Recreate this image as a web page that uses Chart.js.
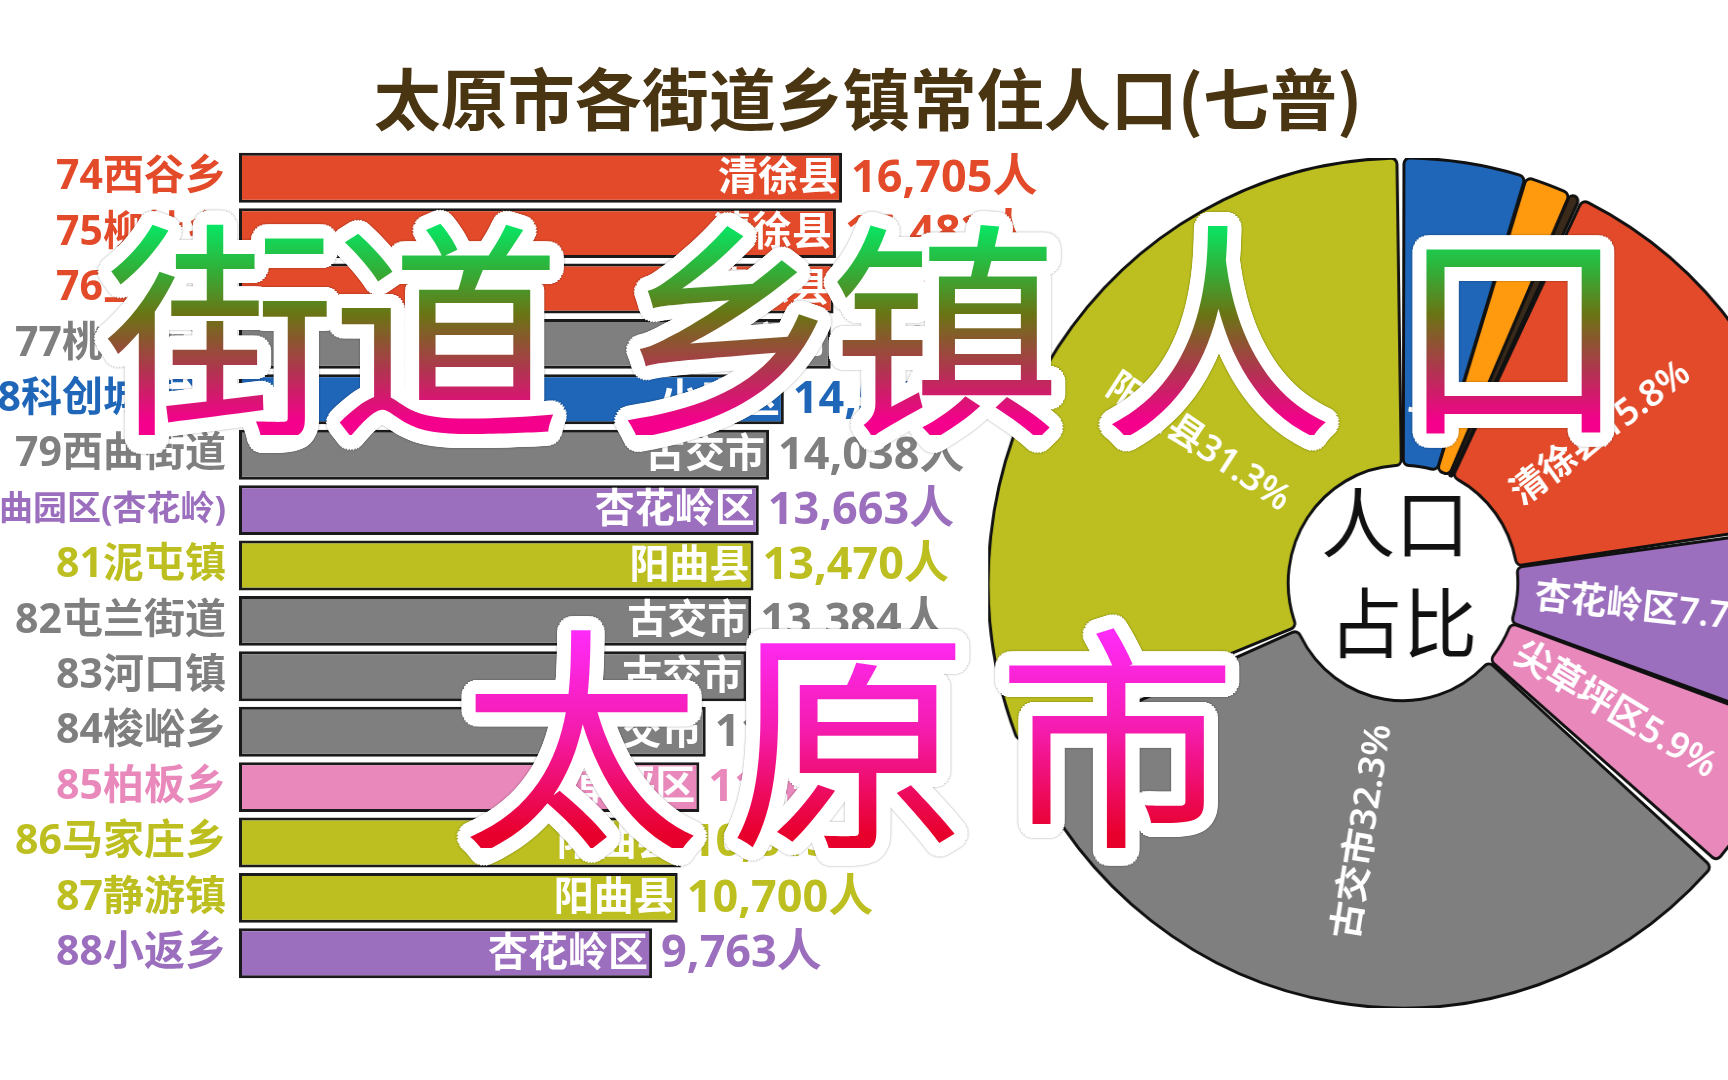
<!DOCTYPE html>
<html lang="zh-CN">
<head>
<meta charset="utf-8">
<title>太原市各街道乡镇常住人口(七普)</title>
<script src="https://cdn.jsdelivr.net/npm/chart.js@4.4.1/dist/chart.umd.min.js"></script>
<style>
  html, body { margin: 0; padding: 0; width: 1728px; height: 1080px; overflow: hidden; background: #fff; }
  #title {
    position: absolute; left: 0; top: 62px; width: 1736px; text-align: center;
    font: bold 67px/67px "Noto Sans CJK SC", sans-serif; color: #4a3512;
  }
  #bars { position: absolute; left: 0; top: 0; }
  #pie { position: absolute; left: 978px; top: 158px; transform: scaleX(0.976); transform-origin: 425px 425px; }
  .big { position: absolute; font-family: "Noto Sans CJK SC", sans-serif; font-weight: 400; line-height: 1; }
  .big > span { position: absolute; left: 0; top: 0; white-space: pre; }
  .big .sp { display: inline-block; }
  .big .halo { color: #fff; filter: drop-shadow(0 0 1px rgba(0,0,0,.35)); }
  .big .ink { color: transparent; -webkit-background-clip: text; background-clip: text; }
  #big1 { left: 104px; top: 203px; font-size: 232px; }
  #big1 .ink { background-image: linear-gradient(to bottom, #00f06c 6%, #2fb23a 28%, #6a7414 48%, #b0354f 72%, #f4008c 94%); }
  #big2 { left: 461px; top: 608px; font-size: 240px; letter-spacing: 28px; }
  #big2 .ink { background-image: linear-gradient(to bottom, #ff2cff 6%, #f51cb0 50%, #e8002c 94%); }
</style>
</head>
<body>
<canvas id="bars" width="1100" height="1080"></canvas>
<canvas id="pie" width="850" height="850"></canvas>
<div id="title">太原市各街道乡镇常住人口(七普)</div>
<div class="big" id="big1">
  <span class="halo"><span>街</span><span style="margin-left:-6px">道</span><span class="sp" style="width:49px"> </span><span>乡</span><span style="margin-left:-14px">镇</span><span style="margin-left:41px">人</span><span style="margin-left:63px">口</span></span>
  <span class="ink"><span>街</span><span style="margin-left:-6px">道</span><span class="sp" style="width:49px"> </span><span>乡</span><span style="margin-left:-14px">镇</span><span style="margin-left:41px">人</span><span style="margin-left:63px">口</span></span>
</div>
<div class="big" id="big2"><span class="halo">太原市</span><span class="ink">太原市</span></div>
<script>
// bar chart: rank + township, population, district
const rankLabels = ['74西谷乡', '75柳杜乡', '76王答乡', '77桃园街道', '78科创城街道', '79西曲街道',
  '80阳曲园区(杏花岭)', '81泥屯镇', '82屯兰街道', '83河口镇', '84梭峪乡', '85柏板乡',
  '86马家庄乡', '87静游镇', '88小返乡'];
const population = [16705, 16482, 16395, 16290, 14578, 14038, 13663, 13470, 13384, 13205,
  11724, 11490, 10815, 10700, 9763];
const barDistrict = ['清徐县', '清徐县', '清徐县', '古交市', '小店区', '古交市', '杏花岭区', '阳曲县',
  '古交市', '古交市', '古交市', '尖草坪区', '阳曲县', '阳曲县', '杏花岭区'];

// doughnut: share of population by district (%)
const pieDistricts = ['小店区', '晋源区', '万柏林区', '清徐县', '杏花岭区', '尖草坪区', '古交市', '阳曲县'];
const pieShares = [4.8, 1.8, 0.4, 15.8, 7.7, 5.9, 32.3, 31.3];

const districts = ['小店区', '晋源区', '万柏林区', '清徐县', '杏花岭区', '尖草坪区', '古交市', '阳曲县'];
const districtColors = ['#1f66b8', '#ff9a0e', '#3a2a1a', '#e34a2a', '#9b6fbe', '#e888bb', '#7f7f7f', '#bcbf1f'];
const colorOf = d => districtColors[districts.indexOf(d)];

const FONT = '"Noto Sans", "Noto Sans CJK SC", sans-serif';
const X_MIN = -5330;
const X_MAX = 26130;

const barText = {
  id: 'barText',
  afterDatasetsDraw(chart) {
    const ctx = chart.ctx;
    const meta = chart.getDatasetMeta(0);
    ctx.save();
    ctx.textBaseline = 'middle';
    meta.data.forEach((bar, i) => {
      const d = barDistrict[i];
      ctx.font = 'bold 40px ' + FONT;
      ctx.fillStyle = '#fff';
      ctx.textAlign = 'right';
      ctx.fillText(d, bar.x - 4, bar.y + 1);
      ctx.font = 'bold 45px ' + FONT;
      ctx.fillStyle = colorOf(d);
      ctx.textAlign = 'left';
      ctx.fillText(population[i].toLocaleString('en-US') + '人', bar.x + 9, bar.y + 1);
    });
    ctx.restore();
  }
};

new Chart(document.getElementById('bars'), {
  type: 'bar',
  data: {
    labels: rankLabels,
    datasets: [{
      data: population,
      base: X_MIN,
      backgroundColor: barDistrict.map(colorOf),
      borderColor: '#1a1a1a',
      borderWidth: 3,
      borderSkipped: false,
      barPercentage: 0.9,
      categoryPercentage: 1.0
    }]
  },
  options: {
    indexAxis: 'y',
    responsive: false,
    animation: false,
    layout: { padding: { top: 150, bottom: 99, left: 0, right: 0 } },
    scales: {
      x: { display: false, min: X_MIN, max: X_MAX },
      y: {
        grid: { display: false, drawTicks: false },
        border: { display: false },
        afterFit(scale) { scale.width = 239; },
        ticks: {
          autoSkip: false,
          padding: 13,
          color: c => colorOf(barDistrict[c.index]),
          font: c => ({ family: FONT, weight: 'bold', size: rankLabels[c.index].length > 8 ? 34 : 41 })
        }
      }
    },
    plugins: { legend: { display: false }, tooltip: { enabled: false } }
  },
  plugins: [barText]
});

const pieText = {
  id: 'pieText',
  afterDatasetsDraw(chart) {
    const ctx = chart.ctx;
    const meta = chart.getDatasetMeta(0);
    ctx.save();
    ctx.fillStyle = '#fff';
    ctx.textAlign = 'center';
    ctx.textBaseline = 'middle';
    ctx.font = '600 37px ' + FONT;
    meta.data.forEach((arc, i) => {
      if (pieShares[i] < 3) return;
      const mid = (arc.startAngle + arc.endAngle) / 2;
      const r = arc.innerRadius + (arc.outerRadius - arc.innerRadius) * 0.45;
      let rot = mid;
      if (Math.cos(mid) < -0.01) rot += Math.PI;
      ctx.save();
      ctx.translate(arc.x + Math.cos(mid) * r, arc.y + Math.sin(mid) * r);
      ctx.rotate(rot);
      ctx.fillText(pieDistricts[i] + pieShares[i].toFixed(1) + '%', 0, 0);
      ctx.restore();
    });
    const c = meta.data[0];
    ctx.fillStyle = '#111';
    ctx.font = '76px "Noto Sans CJK SC", sans-serif';
    ctx.fillText('人口', c.x - 8, c.y - 60);
    ctx.fillText('占比', c.x, c.y + 40);
    ctx.restore();
  }
};

new Chart(document.getElementById('pie'), {
  type: 'doughnut',
  data: {
    labels: pieDistricts,
    datasets: [{
      data: pieShares,
      backgroundColor: pieDistricts.map(colorOf),
      borderColor: '#111',
      borderWidth: 3,
      spacing: 8,
      borderRadius: 6,
      borderJoinStyle: 'round'
    }]
  },
  options: {
    responsive: false,
    animation: false,
    radius: 421,
    cutout: '27%',
    plugins: { legend: { display: false }, tooltip: { enabled: false } }
  },
  plugins: [pieText]
});

// white halo behind the big overlay words
const halo = [];
for (let k = 0; k < 32; k++) {
  const a = k / 32 * Math.PI * 2;
  [5, 10, 14].forEach(r => halo.push((Math.cos(a) * r).toFixed(1) + 'px ' + (Math.sin(a) * r).toFixed(1) + 'px 0 #fff'));
}
document.querySelectorAll('.halo').forEach(el => { el.style.textShadow = halo.join(','); });
</script>
</body>
</html>
